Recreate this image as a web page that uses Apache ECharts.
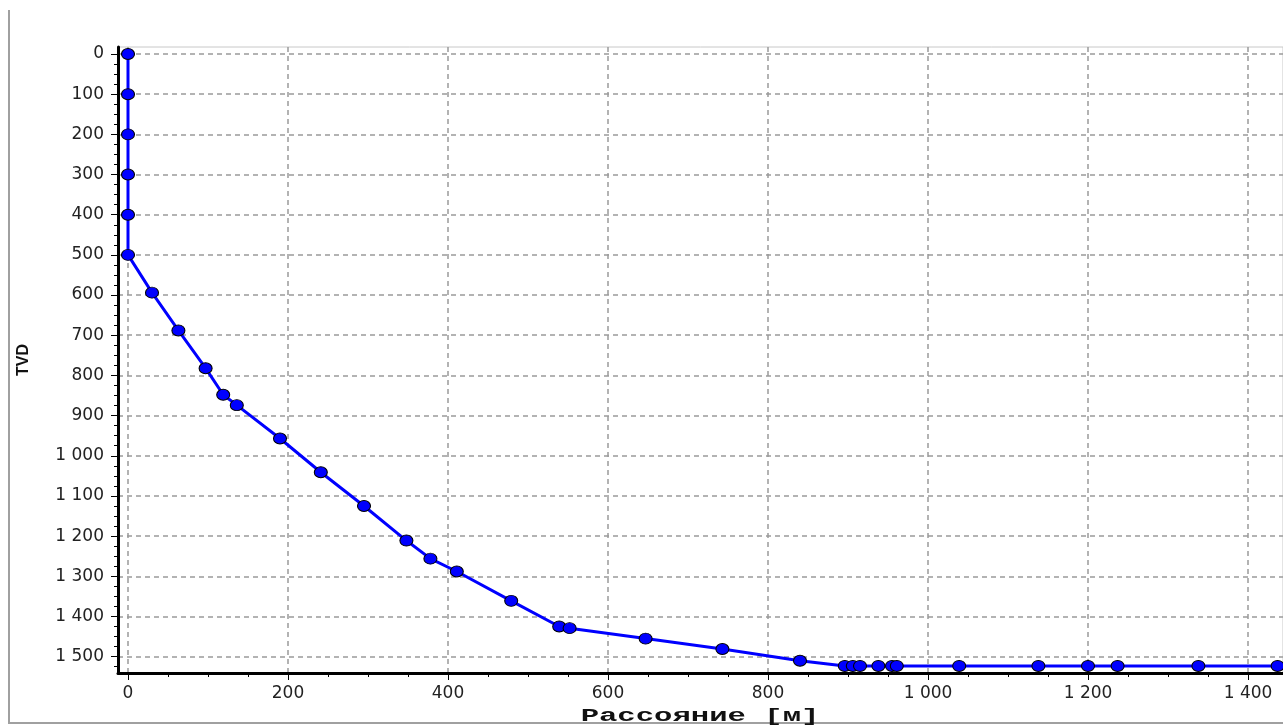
<!DOCTYPE html>
<html>
<head>
<meta charset="utf-8">
<script src="https://cdn.jsdelivr.net/npm/echarts@6/dist/echarts.min.js"></script>
<style>
html,body{margin:0;padding:0;background:#fff;}
#chart{width:1283px;height:728px;}
</style>
</head>
<body>
<div id="chart"></div>
<script>
// ---- data ----
const distance = [0, 0, 0, 0, 0, 0, 30, 63, 97, 119, 136, 190, 241, 295, 348, 378, 411, 479, 539, 552, 647, 743, 840, 896, 906, 915, 938, 955, 961, 1039, 1138, 1200, 1237, 1338, 1437];
const tvd      = [0, 100, 200, 300, 400, 500, 594, 688, 782, 848, 874, 957, 1041, 1125, 1211, 1256, 1288, 1361, 1425, 1429, 1455, 1481, 1510, 1523, 1523, 1523, 1523, 1523, 1523, 1523, 1523, 1523, 1523, 1523, 1523];

// ---- tick labels ----
const xTicks = [0, 200, 400, 600, 800, 1000, 1200, 1400];
const yTicks = [0, 100, 200, 300, 400, 500, 600, 700, 800, 900, 1000, 1100, 1200, 1300, 1400, 1500];
const xAxisName = 'Рассояние [м]';
const yAxisName = 'TVD';

// axis ranges (visible window)
const xMin = -12.5, xMax = 1443.75;
const yMin = -17.4, yMax = 1540.6;

// minor tick positions between major ticks (4 divisions)
function minors(major, step, lo, hi) {
  const out = [];
  const first = major[0] - step * Math.floor((major[0] - lo) / step);
  for (let v = first; v <= hi; v += step) {
    if (!major.includes(v) && v >= lo) out.push(v);
  }
  return out;
}
const xMinor = minors(xTicks, 50, xMin, xMax);
const yMinor = minors(yTicks, 25, yMin, yMax);

const fmt = v => String(v).replace(/\B(?=(\d{3})+(?!\d))/g, ' ');

const chart = echarts.init(document.getElementById('chart'), null, {renderer: 'canvas'});

const labelStyle = {
  color: '#222',
  fontFamily: 'DejaVu Sans',
  fontSize: 17
};
const gridLine = {show: true, lineStyle: {color: '#9a9a9a', width: 1.5, type: [5, 4]}};

chart.setOption({
  animation: false,
  backgroundColor: '#ffffff',
  grid: {
    left: 118, right: 0, top: 47, bottom: 55,
    show: true, borderColor: '#c8c8c8', borderWidth: 1, backgroundColor: '#ffffff'
  },
  xAxis: [
    {
      type: 'value', min: xMin, max: xMax, position: 'bottom',
      axisLine: {show: true, onZero: false, lineStyle: {color: '#000', width: 3}},
      axisTick: {show: true, customValues: xTicks, length: 7, lineStyle: {color: '#000', width: 1}},
      axisLabel: Object.assign({customValues: xTicks, formatter: fmt, margin: 12}, labelStyle),
      splitLine: gridLine
    },
    {
      type: 'value', min: xMin, max: xMax, position: 'bottom',
      axisLine: {show: false, onZero: false},
      axisTick: {show: true, customValues: xMinor, length: 4, lineStyle: {color: '#000', width: 1}},
      axisLabel: {show: false},
      splitLine: {show: false}
    }
  ],
  yAxis: [
    {
      type: 'value', min: yMin, max: yMax, inverse: true, position: 'left',
      axisLine: {show: true, onZero: false, lineStyle: {color: '#000', width: 3}},
      axisTick: {show: true, customValues: yTicks, length: 7, lineStyle: {color: '#000', width: 1}},
      axisLabel: Object.assign({customValues: yTicks, formatter: fmt, margin: 14}, labelStyle),
      splitLine: gridLine
    },
    {
      type: 'value', min: yMin, max: yMax, inverse: true, position: 'left',
      axisLine: {show: false, onZero: false},
      axisTick: {show: true, customValues: yMinor, length: 4, lineStyle: {color: '#000', width: 1}},
      axisLabel: {show: false},
      splitLine: {show: false}
    }
  ],
  series: [{
    type: 'line',
    xAxisIndex: 0, yAxisIndex: 0,
    data: distance.map((d, i) => [d, tvd[i]]),
    lineStyle: {color: '#0000ff', width: 3},
    symbol: 'circle',
    symbolSize: [13, 11],
    itemStyle: {color: '#0000ff', borderColor: '#000', borderWidth: 1},
    z: 5
  }],
  graphic: [
    {
      type: 'polyline', silent: true,
      shape: {points: [[9, 10], [9, 723], [1283, 723]]},
      style: {stroke: '#a0a0a0', lineWidth: 2, fill: null}
    },
    {
      type: 'text', x: 24, y: 360, rotation: Math.PI / 2,
      style: {text: yAxisName, fontFamily: 'Liberation Sans', fontWeight: 'bold', fontSize: 16, fill: '#111', align: 'center', verticalAlign: 'middle'}
    },
    {
      type: 'text', x: 700, y: 716, scaleX: 1.7,
      style: {text: xAxisName, fontFamily: 'Liberation Mono', fontWeight: 'bold', fontSize: 18, fill: '#111', align: 'center', verticalAlign: 'middle'}
    }
  ]
});
</script>
</body>
</html>
